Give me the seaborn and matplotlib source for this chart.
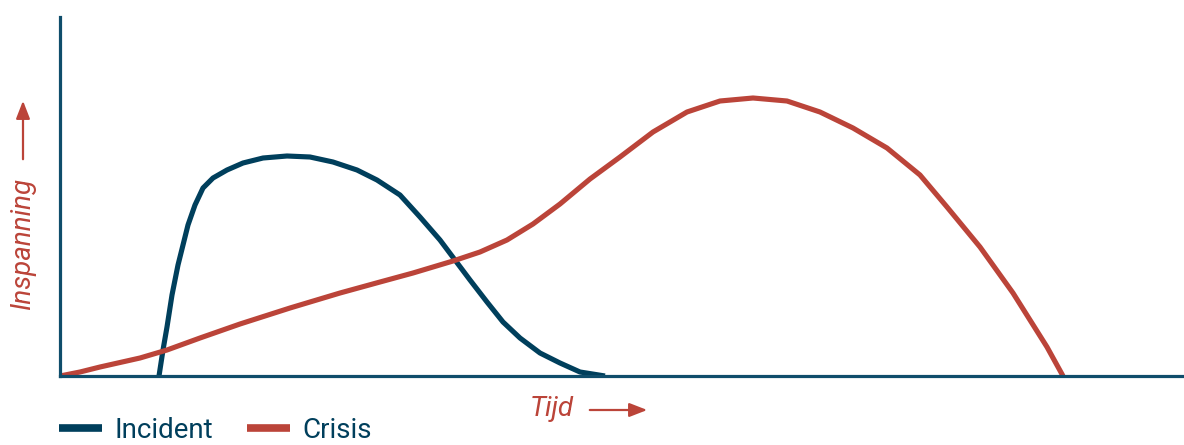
import matplotlib
matplotlib.use("Agg")
import matplotlib.pyplot as plt
import seaborn as sns
import pandas as pd
from matplotlib.lines import Line2D

# Data (time units vs. effort units)
incident_x = [99, 103, 107, 112, 118, 123, 128, 135, 143, 153, 167, 183, 203, 227, 250, 273, 297,
              317, 340, 360, 380, 395, 410, 427, 443, 460, 480, 500, 520, 545]
incident_y = [0, 26, 49, 81, 111, 131, 151, 171, 188, 198, 206, 213, 218, 220, 219, 214, 206,
              196, 181, 159, 136, 116, 96, 74, 54, 38, 23, 13, 4, 0]
crisis_x = [0, 20, 40, 80, 107, 140, 180, 230, 280, 320, 353, 393, 420, 447, 473, 500, 530, 560, 593,
            627, 660, 693, 727, 760, 793, 827, 860, 887, 920, 953, 970, 987, 1003]
crisis_y = [0, 4, 9, 18, 26, 38, 52, 68, 83, 94, 103, 115, 124, 136, 152, 172, 197, 219, 244,
            264, 275, 278, 275, 264, 248, 228, 201, 169, 129, 83, 56, 29, 0]
series_names = ["Incident", "Crisis"]
x_label = "Tijd"
y_label = "Inspanning"

BLUE = "#003f5c"
RED = "#bb4439"
AXIS = "#0f4d6b"

df = pd.concat([
    pd.DataFrame({"t": incident_x, "v": incident_y, "s": series_names[0]}),
    pd.DataFrame({"t": crisis_x, "v": crisis_y, "s": series_names[1]}),
])

sns.set_theme(style="white")
plt.rcParams["font.family"] = ["Roboto", "DejaVu Sans"]

fig = plt.figure(figsize=(11.84, 4.45), dpi=100)
ax = fig.add_axes([60 / 1184, 69 / 445, 1124 / 1184, 359 / 445])

sns.lineplot(data=df, x="t", y="v", hue="s", palette={series_names[0]: BLUE, series_names[1]: RED},
             sort=False, estimator=None, linewidth=3.7, ax=ax, legend=False,
             solid_capstyle="butt", solid_joinstyle="round")

ax.set_xlim(0, 1124)
ax.set_ylim(0, 359)
ax.set_xticks([])
ax.set_yticks([])
ax.set_xlabel("")
ax.set_ylabel("")
for side in ["top", "right"]:
    ax.spines[side].set_visible(False)
for side in ["left", "bottom"]:
    ax.spines[side].set_color(AXIS)
    ax.spines[side].set_linewidth(2.3)

# Axis labels with arrows
fig.text(23 / 1184, (445 - 244) / 445, y_label, rotation=90, color=RED, fontsize=20,
         style="italic", ha="center", va="center")
ax.annotate("", xy=(23, 445 - 98), xytext=(23, 445 - 162), xycoords="figure pixels",
            textcoords="figure pixels",
            arrowprops=dict(arrowstyle="-|>,head_length=0.9,head_width=0.35", color=RED, lw=1.6))
fig.text(552 / 1184, (445 - 409) / 445, x_label, color=RED, fontsize=20,
         style="italic", ha="center", va="center")
ax.annotate("", xy=(650, 445 - 410), xytext=(587, 445 - 410), xycoords="figure pixels",
            textcoords="figure pixels",
            arrowprops=dict(arrowstyle="-|>,head_length=0.9,head_width=0.35", color=RED, lw=1.6))

# Legend
handles = [Line2D([0], [0], color=BLUE, lw=5.5, solid_capstyle="butt"),
           Line2D([0], [0], color=RED, lw=5.5, solid_capstyle="butt")]
leg = fig.legend(handles, series_names, loc="center left", bbox_to_anchor=(59 / 1184, (445 - 430) / 445),
                 ncol=2, frameon=False, fontsize=20, handlelength=1.55, handletextpad=0.45,
                 columnspacing=1.2, borderaxespad=0, borderpad=0)
for t in leg.get_texts():
    t.set_color(BLUE)

fig.savefig("out.png", dpi=100, facecolor="white")
